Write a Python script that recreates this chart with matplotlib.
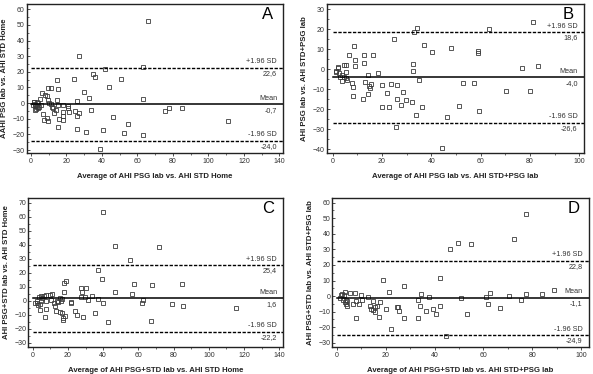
import numpy as np
import matplotlib
matplotlib.use("Agg")
import matplotlib.pyplot as plt
from matplotlib.ticker import MultipleLocator
import matplotlib.transforms as mtransforms

plt.rcParams['font.family'] = ['Liberation Sans', 'DejaVu Sans']

######## values ########

# A: PSG lab vs STD Home
a_avg = [66.2, 27.1, 63.0, 41.9, 35.1, 36.1, 24.2, 50.6, 14.8, 44.2, 9.4, 11.3, 15.2, 30.1, 6.2,
         7.7, 8.8, 32.7, 63.0, 5.1, 9.4, 14.8, 26.1, 1.9, 3.2, 10.3, 3.8, 1.3, 2.2, 5.8, 11.1, 15.0,
         18.2, 20.7, 12.0, 3.2, 4.5, 20.9, 12.6, 75.5, 78.0, 84.9, 2.6, 13.9, 33.8, 24.8, 2.4, 21.4,
         18.2, 12.8, 27.1, 6.6, 25.7, 18.0, 8.8, 46.4, 15.6, 7.1, 18.2, 9.8, 110.9, 54.9, 15.4, 25.7,
         40.6, 31.2, 52.6, 63.3, 38.9, 1.5, 2.8, 4.0, 2.0]
a_diff = [52.7, 30.1, 22.9, 21.6, 18.6, 16.5, 15.6, 15.4, 14.6, 10.1, 9.7, 9.7, 9.2, 7.1, 6.5,
          5.2, 4.3, 3.3, 2.8, 2.4, 2.2, 2.2, 1.6, 0.9, 0.9, 0.1, -0.1, -1.0, -0.6, -1.2, -0.8, -1.4,
          -1.4, -1.8, -2.3, -2.7, -2.7, -2.9, -3.3, -4.9, -3.1, -3.1, -3.8, -4.2, -4.4, -4.8, -2.0, -5.7,
          -5.9, -6.5, -6.5, -6.8, -8.0, -8.5, -9.3, -9.1, -10.2, -10.6, -10.8, -11.5, -11.6, -13.1, -15.3, -16.6,
          -17.4, -18.7, -19.3, -20.6, -29.1, 0.5, -1.5, -3.0, -4.5]
a_stats = [-0.7, 22.6, -24.0]

# B: PSG lab vs STD+PSG lab
b_avg = [81.4, 34.2, 63.5, 33.1, 24.7, 8.8, 37.2, 48.0, 40.1, 58.8, 58.8, 6.6, 12.7, 16.5, 9.1,
         12.7, 32.7, 4.7, 5.5, 83.2, 8.9, 2.0, 2.3, 76.8, 1.2, 32.7, 5.3, 18.5, 1.4, 2.6, 3.8, 14.2,
         3.0, 4.5, 5.4, 3.8, 5.8, 34.9, 7.8, 13.2, 53.0, 57.2, 23.5, 25.9, 20.0, 15.5, 8.1, 14.6,
         15.0, 28.4, 70.1, 80.1, 21.9, 14.2, 8.2, 12.2, 26.1, 29.7, 32.2, 27.6, 51.4, 20.1, 22.7,
         36.2, 59.2, 33.6, 46.4, 25.7, 44.2]
b_diff = [23.5, 20.5, 20.0, 18.8, 15.0, 11.5, 12.3, 10.7, 8.7, 9.3, 8.0, 7.2, 7.2, 7.2, 4.5,
          3.3, 2.5, 2.2, 2.2, 1.8, 1.5, 1.3, 0.5, 0.7, -0.8, -0.8, -1.5, -1.8, -1.5, -2.0, -2.8, -3.0,
          -3.7, -3.7, -4.3, -5.7, -5.5, -5.5, -6.7, -6.3, -6.7, -7.0, -7.5, -7.8, -7.8, -7.5, -9.0, -8.3,
          -9.2, -11.2, -10.8, -10.7, -12.0, -12.5, -13.3, -15.0, -15.0, -15.3, -16.3, -17.8, -18.5, -18.7, -18.8,
          -19.0, -20.8, -23.0, -23.8, -28.8, -39.2]
b_stats = [-4.0, 18.6, -26.6]

# C: PSG+STD lab vs STD Home
c_avg = [39.7, 46.7, 55.3, 71.5, 37.3, 39.5, 19.1, 17.6, 57.7, 67.9, 84.6, 27.2, 30.3, 17.6, 27.8,
         46.9, 56.6, 33.5, 27.2, 29.7, 31.6, 37.3, 11.1, 9.6, 7.7, 6.4, 4.5, 3.4, 5.3, 15.3, 16.4,
         10.4, 7.6, 13.6, 16.1, 4.5, 2.3, 1.3, 2.6, 4.1, 3.2, 11.9, 14.6, 21.7, 21.5, 40.1, 62.5,
         61.9, 78.9, 85.5, 115.4, 12.5, 4.3, 7.6, 13.0, 24.2, 35.4, 15.3, 16.6, 25.3, 18.3, 6.8,
         17.2, 17.4, 28.7, 42.9, 67.3]
c_diff = [63.6, 39.1, 29.1, 38.1, 21.7, 15.3, 13.8, 12.9, 12.0, 11.2, 12.0, 8.8, 8.8, 6.0, 6.0,
          6.2, 4.6, 3.4, 2.5, 2.7, 0.8, 1.2, 4.6, 3.9, 3.7, 3.0, 3.2, 2.7, 2.0, 1.8, 1.2,
          0.8, -0.2, -0.4, -0.4, -0.4, -0.4, -1.4, -1.9, -2.4, -2.9, -1.4, -1.2, -1.4, -0.7, -1.9, 0.3,
          -1.6, -2.4, -3.8, -5.2, -3.6, -6.5, -6.2, -7.6, -7.6, -8.5, -8.3, -8.8, -10.0, -10.7, -11.6,
          -12.1, -13.5, -11.6, -15.0, -14.3]
c_stats = [1.6, 25.4, -22.2]

# D: PSG+STD lab vs STD+PSG lab
d_avg = [18.7, 27.4, 21.3, 34.5, 37.8, 12.6, 10.0, 7.4, 5.2, 3.4, 2.1, 2.7, 1.6, 1.2, 2.3,
         3.9, 3.1, 4.2, 6.7, 8.0, 9.2, 10.1, 3.7, 4.0, 14.6, 17.6, 16.6, 15.5, 13.5, 13.8, 14.9,
         15.7, 17.3, 8.0, 20.1, 24.4, 25.1, 25.4, 27.4, 22.0, 33.0, 34.0, 33.3, 36.6, 39.2, 40.5,
         42.3, 42.4, 77.6, 72.6, 49.4, 54.7, 46.4, 50.9, 53.1, 61.1, 62.8, 61.9, 66.9, 70.3, 75.3,
         77.6, 83.8, 88.8, 44.6]
d_diff = [10.5, 6.5, 2.8, 1.5, -0.4, -0.4, 0.6, 2.1, 1.9, 2.7, 1.3, 0.6, 0.4, -1.5, -2.4,
          -2.2, -3.6, -3.4, -4.9, -3.2, -4.9, -2.8, -5.1, -6.4, -3.2, -4.1, -6.4, -7.1, -6.6, -8.3, -8.9,
          -10.4, -13.4, -14.3, -8.1, -7.1, -7.1, -9.8, -14.1, -21.0, -2.4, -6.2, -14.3, -9.3, -8.3, -11.5,
          11.8, -6.5, 52.7, 36.9, 34.3, 33.5, 30.0, -1.5, -11.7, -0.4, 2.2, -5.3, -7.5, 0.0, -2.8,
          1.1, 1.1, 4.1, -25.7]
d_stats = [-1.1, 22.8, -24.9]

W, H = 593, 374
fig = plt.figure(figsize=(W / 100, H / 100), dpi=100)


def px_axes(left, top, right, bottom):
    return fig.add_axes([left / W, 1 - bottom / H, (right - left) / W, (bottom - top) / H])


def comma(v):
    return ("%.1f" % v).replace(".", ",")


def bland(ax, x, y, stats, xlim, ylim, ymaj, letter, xlab, ylab):
    ax.plot(x, y, linestyle='none', marker='s', ms=2.3, mfc='none', mec='#3c3c3c', mew=0.6)
    mean, hi, lo = stats
    ax.plot([0, xlim[1]], [mean, mean], color='black', lw=1.1)
    for v in (hi, lo):
        ax.plot([0, xlim[1]], [v, v], color='black', lw=1.0, dashes=(2.4, 1.1))
    ax.set_xlim(*xlim)
    ax.set_ylim(*ylim)
    ax.xaxis.set_major_locator(MultipleLocator(20))
    ax.xaxis.set_minor_locator(MultipleLocator(10))
    ax.yaxis.set_major_locator(MultipleLocator(ymaj))
    ax.yaxis.set_minor_locator(MultipleLocator(5))
    ax.tick_params(axis='both', which='major', labelsize=5, length=2.2, width=0.6,
                   colors='#333333', pad=1.5)
    ax.tick_params(axis='both', which='minor', length=1.3, width=0.5, colors='#333333')
    ax.tick_params(axis='y', which='both', direction='in')
    for s in ax.spines.values():
        s.set_linewidth(1.0)
        s.set_color('#222222')
    tr = mtransforms.blended_transform_factory(ax.transAxes, ax.transData)
    txt = dict(transform=tr, ha='right', va='center', fontsize=5.2, color='#333333')
    for v, top_txt in ((hi, "+1.96 SD"), (mean, "Mean"), (lo, "-1.96 SD")):
        ax.annotate(top_txt, xy=(1, v), xycoords=tr, xytext=(-4.5, 4.2),
                    textcoords='offset points', ha='right', va='center', fontsize=5.2, color='#333333')
        ax.annotate(comma(v), xy=(1, v), xycoords=tr, xytext=(-4.5, -4.2),
                    textcoords='offset points', ha='right', va='center', fontsize=5.2, color='#333333')
    ax.text(0.94, 0.93, letter, transform=ax.transAxes, ha='center', va='center', fontsize=12)
    bold = dict(fontsize=5.6, fontweight='bold', family=['Liberation Sans Narrow', 'Liberation Sans'],
                color='#222222')
    ax.set_xlabel(xlab, labelpad=6, **bold)
    ax.set_ylabel(ylab, labelpad=3, **bold)


axA = px_axes(26.7, 4.3, 283.3, 153)
bland(axA, a_avg, a_diff, a_stats, (-2.4, 142.2), (-31.9, 63.2), 10, "A",
      "Average of AHI PSG lab vs. AHI STD Home", "AAHI PSG lab vs. AHI STD Home")

axB = px_axes(326.7, 4.3, 584, 153)
bland(axB, b_avg, b_diff, b_stats, (-2.4, 101.9), (-41.8, 32.5), 10, "B",
      "Average of AHI PSG lab vs. AHI STD+PSG lab", "AHI PSG lab vs. AHI STD+PSG lab")

axC = px_axes(28.3, 198.3, 283.3, 346.7)
bland(axC, c_avg, c_diff, c_stats, (-2.5, 142.3), (-32.9, 73.1), 10, "C",
      "Average of AHI PSG+STD lab vs. AHI STD Home", "AHI PSG+STD lab vs. AHI STD Home")

axD = px_axes(332.3, 198.3, 589, 347)
bland(axD, d_avg, d_diff, d_stats, (-1.9, 103.2), (-32.7, 62.8), 10, "D",
      "Average of AHI PSG+STD lab vs. AHI STD+PSG lab", "AHI PSG+STD lab vs. AHI STD+PSG lab")

fig.savefig("out.png", dpi=100)
